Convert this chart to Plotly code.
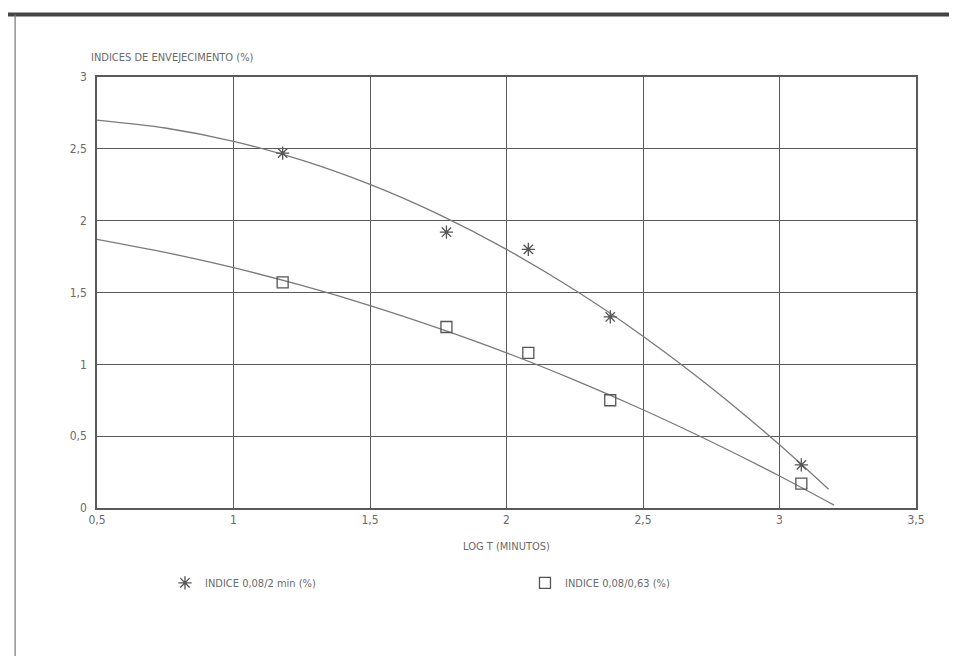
import plotly.graph_objects as go

# Measured points (log t in minutes)
log_t = [1.18, 1.78, 2.08, 2.38, 3.08]
indice_2min = [2.47, 1.92, 1.80, 1.33, 0.30]
indice_063 = [1.57, 1.26, 1.08, 0.75, 0.17]

# Fitted curves
fit_x_2min = [0.5, 0.75, 1.0, 1.25, 1.5, 1.75, 2.0, 2.25, 2.5, 2.75, 3.0, 3.18]
fit_y_2min = [2.70, 2.645, 2.552, 2.421, 2.252, 2.045, 1.80, 1.517, 1.196, 0.837, 0.44, 0.13]
fit_x_063 = [0.5, 0.75, 1.0, 1.25, 1.5, 1.75, 2.0, 2.25, 2.5, 2.75, 3.0, 3.2]
fit_y_063 = [1.87, 1.779, 1.673, 1.549, 1.409, 1.252, 1.08, 0.890, 0.684, 0.461, 0.223, 0.02]

x_ticks = [0.5, 1, 1.5, 2, 2.5, 3, 3.5]
x_tick_text = ["0,5", "1", "1,5", "2", "2,5", "3", "3,5"]
y_ticks = [0, 0.5, 1, 1.5, 2, 2.5, 3]
y_tick_text = ["0", "0,5", "1", "1,5", "2", "2,5", "3"]

FONT = "DejaVu Sans Condensed, Liberation Sans Narrow, sans-serif"
TXT = "#6a6a6a"
LINE = "#5a5a5a"

fig = go.Figure()
fig.add_trace(go.Scatter(x=fit_x_2min, y=fit_y_2min, mode="lines", line=dict(color="#7a7a7a", width=1.3, shape="spline", smoothing=0.8),
                         showlegend=False, hoverinfo="skip"))
fig.add_trace(go.Scatter(x=fit_x_063, y=fit_y_063, mode="lines", line=dict(color="#7a7a7a", width=1.3, shape="spline", smoothing=0.8),
                         showlegend=False, hoverinfo="skip"))
fig.add_trace(go.Scatter(x=log_t, y=indice_2min, mode="markers", name="INDICE 0,08/2 min (%)",
                         marker=dict(symbol="asterisk-open", size=11, color="#555555", line=dict(color="#555555", width=1.3))))
fig.add_trace(go.Scatter(x=log_t, y=indice_063, mode="markers", name="INDICE 0,08/0,63 (%)",
                         marker=dict(symbol="square-open", size=11, color="#555555", line=dict(color="#555555", width=1.3))))

fig.update_layout(
    width=957, height=656,
    margin=dict(l=89, r=49, t=69, b=156),
    paper_bgcolor="white", plot_bgcolor="white",
    font=dict(family=FONT, size=12, color=TXT),
    showlegend=True,
    legend=dict(orientation="h", x=0.083, y=-0.14, xanchor="left", yanchor="top",
                entrywidth=315, entrywidthmode="pixels", font=dict(size=11, color=TXT), bgcolor="rgba(0,0,0,0)"),
    xaxis=dict(range=[0.5, 3.5], tickvals=x_ticks, ticktext=x_tick_text, showgrid=True,
               gridcolor=LINE, gridwidth=1.3, showline=True, linecolor=LINE, linewidth=1.5, mirror=True,
               zeroline=False, ticks="", ticklen=0, tickfont=dict(size=12, color=TXT),
               title=dict(text="LOG T (MINUTOS)", font=dict(size=11, color=TXT), standoff=16)),
    yaxis=dict(range=[0, 3], tickvals=y_ticks, ticktext=y_tick_text, showgrid=True,
               gridcolor=LINE, gridwidth=1.3, showline=True, linecolor=LINE, linewidth=1.5, mirror=True,
               zeroline=False, ticks="", tickfont=dict(size=12, color=TXT), ticklabelstandoff=6),
    annotations=[dict(text="INDICES DE ENVEJECIMENTO (%)", xref="paper", yref="paper", x=-0.01, y=1.025,
                      xanchor="left", yanchor="bottom", showarrow=False, font=dict(size=11, color=TXT))],
    shapes=[
        dict(type="line", xref="paper", yref="paper", x0=-0.12, x1=1.07, y0=1.145, y1=1.145,
             line=dict(color="#444444", width=4)),
        dict(type="line", xref="paper", yref="paper", x0=-0.1, x1=-0.1, y0=1.145, y1=-0.35,
             line=dict(color="#777777", width=1.2)),
    ],
)

fig.write_html("out.html")
